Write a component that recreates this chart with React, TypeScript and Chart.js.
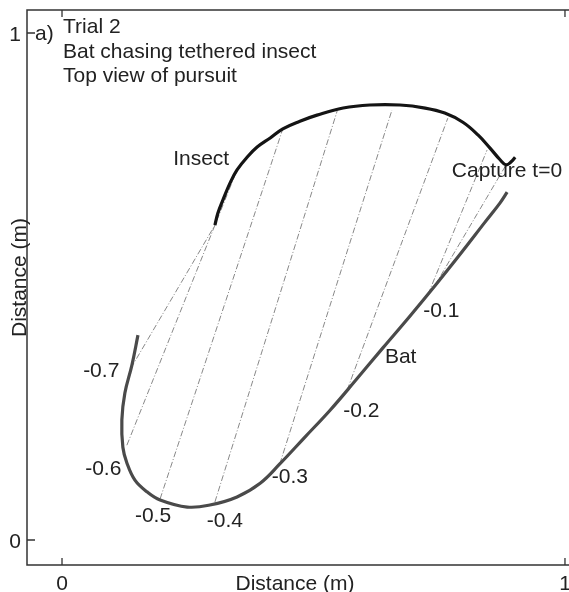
import { useEffect, useRef } from 'react';
import { Chart, registerables } from 'chart.js';

Chart.register(...registerables);

// ---- Data (metres, top view) ----
const insectX = [0.304, 0.310, 0.320, 0.334, 0.348, 0.368, 0.388, 0.414, 0.439, 0.473, 0.507, 0.559, 0.612, 0.672, 0.722, 0.761, 0.797, 0.827, 0.851, 0.871, 0.883, 0.893, 0.901];
const insectY = [0.621, 0.645, 0.671, 0.704, 0.730, 0.755, 0.775, 0.793, 0.811, 0.826, 0.838, 0.852, 0.858, 0.858, 0.852, 0.842, 0.824, 0.799, 0.773, 0.750, 0.740, 0.746, 0.755];

const batX = [0.151, 0.139, 0.125, 0.119, 0.121, 0.129, 0.145, 0.169, 0.195, 0.249, 0.294, 0.348, 0.394, 0.433, 0.483, 0.533, 0.583, 0.638, 0.692, 0.746, 0.795, 0.841, 0.871, 0.885];
const batY = [0.404, 0.345, 0.290, 0.237, 0.183, 0.152, 0.118, 0.095, 0.079, 0.065, 0.069, 0.085, 0.112, 0.150, 0.203, 0.256, 0.314, 0.379, 0.442, 0.507, 0.568, 0.627, 0.665, 0.686];

// Links between bat and insect positions at equal times
const linkBatX = [0.137, 0.129, 0.195, 0.304, 0.433, 0.567, 0.728, 0.742];
const linkBatY = [0.339, 0.187, 0.081, 0.075, 0.150, 0.296, 0.485, 0.503];
const linkInsX = [0.304, 0.348, 0.439, 0.547, 0.656, 0.767, 0.845, 0.883];
const linkInsY = [0.621, 0.730, 0.811, 0.846, 0.848, 0.832, 0.769, 0.740];

// Annotation texts and their anchors (data coords, left/baseline)
const labelTexts = ['Insect', 'Capture t=0', 'Bat', '-0.1', '-0.2', '-0.3', '-0.4', '-0.5', '-0.6', '-0.7'];
const labelX = [0.221, 0.775, 0.642, 0.718, 0.559, 0.417, 0.288, 0.145, 0.046, 0.042];
const labelY = [0.740, 0.716, 0.349, 0.440, 0.243, 0.112, 0.026, 0.036, 0.128, 0.321];

const titleLines = ['Trial 2', 'Bat chasing tethered insect', 'Top view of pursuit'];
const panelLabel = 'a)';
const xTicks = [0, 1];
const yTicks = [0, 1];
const xTitle = 'Distance (m)';
const yTitle = 'Distance (m)';

const FONT = '"Liberation Sans", Arial, Helvetica, sans-serif';

export default function App() {
  const ref = useRef<HTMLCanvasElement>(null);

  useEffect(() => {
    const canvas = ref.current;
    if (!canvas) return;
    const zip = (xs: number[], ys: number[]) => xs.map((x, i) => ({ x, y: ys[i] }));

    const datasets: any[] = [
      { data: zip(insectX, insectY), borderColor: '#141414', borderWidth: 3.2, tension: 0.4, order: 0 },
      { data: zip(batX, batY), borderColor: '#4a4a4a', borderWidth: 3.2, tension: 0.4, order: 0 },
      ...linkBatX.map((bx, i) => ({
        data: [{ x: bx, y: linkBatY[i] }, { x: linkInsX[i], y: linkInsY[i] }],
        borderColor: '#7a7a7a',
        borderWidth: 0.9,
        borderDash: [6, 2, 1, 2],
        tension: 0,
        order: 1,
      })),
    ].map((d) => ({ ...d, showLine: true, pointRadius: 0, pointHoverRadius: 0, fill: false }));

    const decor = {
      id: 'decor',
      afterDraw(chart: any) {
        const { ctx, chartArea } = chart;
        const { left, top, right, bottom } = chartArea;
        const xs = chart.scales.x;
        const ys = chart.scales.y;
        ctx.save();
        // frame
        ctx.strokeStyle = '#333';
        ctx.lineWidth = 1.5;
        ctx.beginPath();
        ctx.moveTo(right + 2, top);
        ctx.lineTo(left, top);
        ctx.lineTo(left, bottom);
        ctx.lineTo(right + 2, bottom);
        ctx.stroke();
        // inward ticks
        ctx.lineWidth = 1.3;
        ctx.beginPath();
        xTicks.forEach((v) => {
          const px = xs.getPixelForValue(v);
          ctx.moveTo(px, bottom);
          ctx.lineTo(px, bottom - 7);
          ctx.moveTo(px, top);
          ctx.lineTo(px, top + 7);
        });
        yTicks.forEach((v) => {
          const py = ys.getPixelForValue(v);
          ctx.moveTo(left, py);
          ctx.lineTo(left + 8, py);
        });
        ctx.stroke();

        ctx.fillStyle = '#222';
        ctx.font = `21px ${FONT}`;
        // tick labels
        ctx.textAlign = 'center';
        ctx.textBaseline = 'alphabetic';
        xTicks.forEach((v) => {
          ctx.fillText(String(v), xs.getPixelForValue(v), bottom + 25);
        });
        ctx.textAlign = 'right';
        ctx.textBaseline = 'middle';
        yTicks.forEach((v) => {
          ctx.fillText(String(v), left - 6, ys.getPixelForValue(v) + 2);
        });
        // axis titles
        ctx.textAlign = 'center';
        ctx.textBaseline = 'alphabetic';
        ctx.fillText(xTitle, 295, bottom + 25);
        ctx.save();
        ctx.translate(left - 1, (top + bottom) / 2 - 10);
        ctx.rotate(-Math.PI / 2);
        ctx.fillText(yTitle, 0, 0);
        ctx.restore();

        // panel label and title block
        ctx.textAlign = 'left';
        ctx.textBaseline = 'alphabetic';
        ctx.fillText(panelLabel, left + 8, ys.getPixelForValue(1) + 7);
        const tx = xs.getPixelForValue(0.002);
        titleLines.forEach((t, i) => {
          ctx.fillText(t, tx, ys.getPixelForValue(1) + i * 24.5);
        });
        // annotations
        labelTexts.forEach((t, i) => {
          ctx.fillText(t, xs.getPixelForValue(labelX[i]), ys.getPixelForValue(labelY[i]));
        });
        ctx.restore();
      },
    };

    const chart = new Chart(canvas, {
      type: 'scatter',
      data: { datasets },
      options: {
        responsive: false,
        animation: false,
        devicePixelRatio: 1,
        events: [],
        layout: { padding: { left: 27, top: 10, right: 0, bottom: 27 } },
        plugins: { legend: { display: false }, tooltip: { enabled: false } },
        scales: {
          x: { type: 'linear', display: false, min: -0.0696, max: 1.008 },
          y: { type: 'linear', display: false, min: -0.0493, max: 1.0454 },
        },
      },
      plugins: [decor],
    });
    return () => chart.destroy();
  }, []);

  return (
    <div style={{ position: 'absolute', left: 0, top: 0, width: 569, height: 592, background: '#fff' }}>
      <canvas ref={ref} width={569} height={592} />
    </div>
  );
}
